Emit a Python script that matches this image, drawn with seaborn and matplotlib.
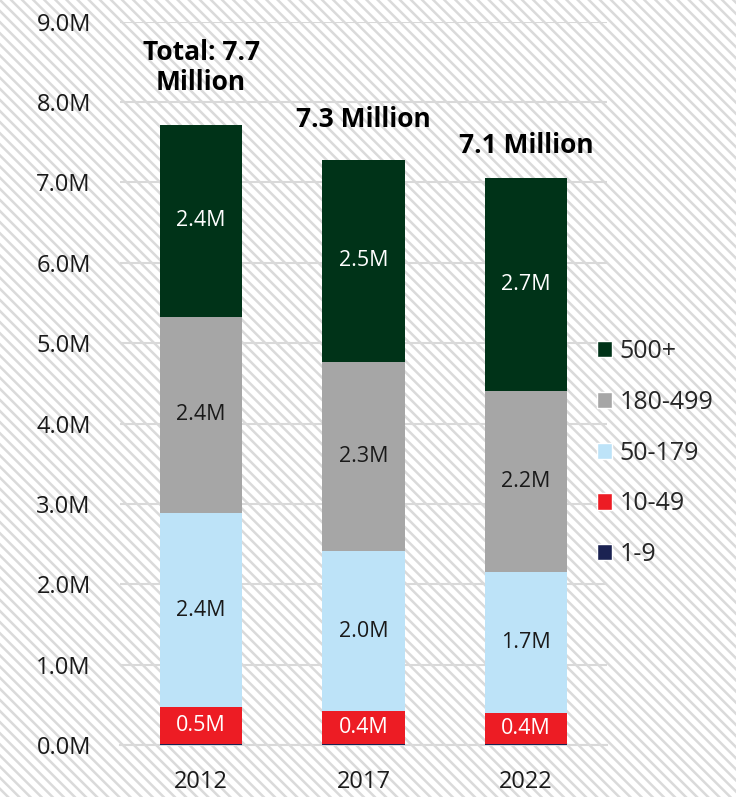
import matplotlib

matplotlib.use("Agg")
import matplotlib.pyplot as plt
import numpy as np
import pandas as pd
import seaborn as sns
from matplotlib.patches import Patch, Rectangle

sns.set_theme(style="white")
plt.rcParams["font.family"] = ["Open Sans", "DejaVu Sans"]
plt.rcParams["hatch.linewidth"] = 1.8

years = ["2012", "2017", "2022"]
sizes = ["1-9", "10-49", "50-179", "180-499", "500+"]
# millions of employees by establishment size
emp_1_9 = [0.02, 0.02, 0.02]
emp_10_49 = [0.45, 0.40, 0.38]
emp_50_179 = [2.42, 2.00, 1.75]
emp_180_499 = [2.44, 2.35, 2.25]
emp_500 = [2.38, 2.51, 2.66]
seg_labels = {
    "10-49": ["0.5M", "0.4M", "0.4M"],
    "50-179": ["2.4M", "2.0M", "1.7M"],
    "180-499": ["2.4M", "2.3M", "2.2M"],
    "500+": ["2.4M", "2.5M", "2.7M"],
}
totals = ["Total: 7.7\nMillion", "7.3 Million", "7.1 Million"]

colors = {"1-9": "#1b2252", "10-49": "#ed1c24", "50-179": "#bde3f8",
          "180-499": "#a6a6a6", "500+": "#003318"}
text_col = {"10-49": "white", "50-179": "#1a1a1a", "180-499": "#1a1a1a",
            "500+": "white"}

df = pd.DataFrame({"year": years, "1-9": emp_1_9, "10-49": emp_10_49,
                   "50-179": emp_50_179, "180-499": emp_180_499, "500+": emp_500})
cum = df[sizes].cumsum(axis=1)

fig = plt.figure(figsize=(7.36, 7.97), dpi=100)
fig.patch.set_facecolor("white")
# hatched background over the whole canvas
fig.patches.append(Rectangle((0, 0), 1, 1, transform=fig.transFigure,
                             facecolor="white", edgecolor="#dadada",
                             hatch="\\\\\\", linewidth=0, zorder=-10))
ax = fig.add_axes([0.163, 0.065, 0.662, 0.908])
ax.patch.set_alpha(0)

# draw cumulative bars from the top down so each segment shows
for s in reversed(sizes):
    sns.barplot(x=df["year"], y=cum[s], color=colors[s], width=0.506,
                saturation=1, linewidth=0, zorder=3, ax=ax)

for s in sizes[1:]:
    mid = cum[s] - df[s] / 2
    for i, (m, lab) in enumerate(zip(mid, seg_labels[s])):
        ax.text(i, m, lab, ha="center", va="center", fontsize=15.5,
                color=text_col[s], zorder=4)

tops = cum["500+"]
offs = [0.36, 0.33, 0.23]
for i, (t, lab) in enumerate(zip(tops, totals)):
    ax.text(i, t + offs[i], lab, ha="center", va="bottom", fontsize=19,
            fontweight="bold", color="black", linespacing=1.15, zorder=4)

ax.set_ylim(0, 9)
ax.set_xlim(-0.5, 2.5)
ax.set_yticks(np.arange(0, 9.5, 1.0))
ax.set_yticklabels([f"{v:.1f}M" for v in np.arange(0, 9.5, 1.0)])
ax.yaxis.grid(True, color="#d9d9d9", linewidth=1.5, zorder=0)
ax.set_axisbelow(True)
ax.set_xlabel("")
ax.set_ylabel("")
for sp in ["top", "right", "left"]:
    ax.spines[sp].set_visible(False)
ax.spines["bottom"].set_color("#d9d9d9")
ax.spines["bottom"].set_linewidth(1.5)
ax.tick_params(axis="both", length=0, labelsize=17, colors="#1a1a1a")
ax.tick_params(axis="y", pad=21)
ax.tick_params(axis="x", pad=18)

handles = [Patch(facecolor=colors[s], label=s) for s in reversed(sizes)]
leg = ax.legend(handles=handles, loc="upper left", bbox_to_anchor=(0.958, 0.575),
                frameon=False, fontsize=18, labelspacing=1.03, handlelength=0.62,
                handleheight=0.62, handletextpad=0.3, borderaxespad=0)

fig.savefig("out.png", dpi=100)
